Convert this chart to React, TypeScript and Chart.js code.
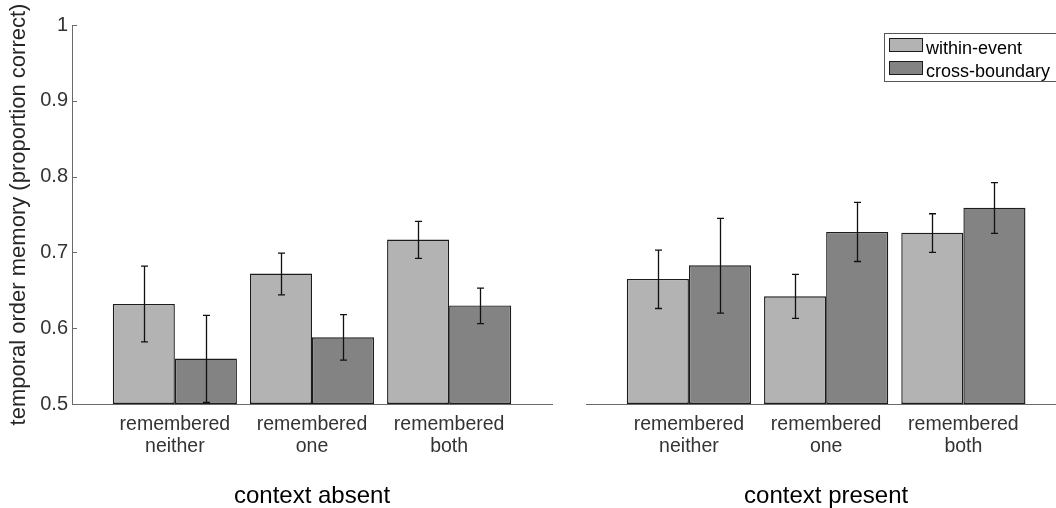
import React, { useEffect, useRef } from "react";
import { Chart, registerables } from "chart.js";

Chart.register(...registerables);

// ---------- data ----------
const categories = [
  ["remembered", "neither"],
  ["remembered", "one"],
  ["remembered", "both"],
];
const categoryPositions = [1, 2, 3];
const seriesNames = ["within-event", "cross-boundary"];
const panelTitles = ["context absent", "context present"];
const yTitle = "temporal order memory (proportion correct)";
const yTickValues = [0.5, 0.6, 0.7, 0.8, 0.9, 1];
const yTickLabels = ["0.5", "0.6", "0.7", "0.8", "0.9", "1"];

// context absent
const absentWithin = [0.632, 0.672, 0.717];
const absentWithinLow = [0.582, 0.644, 0.692];
const absentWithinHigh = [0.682, 0.699, 0.741];
const absentCross = [0.56, 0.588, 0.63];
const absentCrossLow = [0.502, 0.558, 0.606];
const absentCrossHigh = [0.617, 0.618, 0.653];

// context present
const presentWithin = [0.665, 0.642, 0.726];
const presentWithinLow = [0.626, 0.613, 0.7];
const presentWithinHigh = [0.703, 0.671, 0.751];
const presentCross = [0.683, 0.727, 0.759];
const presentCrossLow = [0.62, 0.688, 0.725];
const presentCrossHigh = [0.745, 0.766, 0.792];

// ---------- style ----------
const FONT = "'Liberation Sans', Arial, Helvetica, sans-serif";
const LIGHT = "#b3b3b3";
const DARK = "#838383";
const EDGE = "#1c1c1c";
const AXIS = "#6a6a6a";
const TICKTXT = "#333333";

Chart.defaults.font.family = FONT;

const errorBarPlugin = {
  id: "errorBars",
  afterDatasetsDraw(chart: any, _args: any, o: any) {
    if (!o || !o.low) return;
    const { ctx } = chart;
    const yScale = chart.scales.y;
    ctx.save();
    ctx.strokeStyle = o.color;
    ctx.lineWidth = o.width;
    chart.data.datasets.forEach((_ds: any, di: number) => {
      const meta = chart.getDatasetMeta(di);
      meta.data.forEach((bar: any, i: number) => {
        const yl = yScale.getPixelForValue(o.low[di][i]);
        const yh = yScale.getPixelForValue(o.high[di][i]);
        const x = Math.round(bar.x) + 0.5;
        ctx.beginPath();
        ctx.moveTo(x, yl);
        ctx.lineTo(x, yh);
        ctx.moveTo(x - o.cap, yl);
        ctx.lineTo(x + o.cap, yl);
        ctx.moveTo(x - o.cap, yh);
        ctx.lineTo(x + o.cap, yh);
        ctx.stroke();
      });
    });
    ctx.restore();
  },
};

const panelDecorPlugin = {
  id: "panelDecor",
  afterDraw(chart: any, _args: any, o: any) {
    if (!o) return;
    const { ctx, chartArea } = chart;
    const xScale = chart.scales.x;
    const yScale = chart.scales.y;
    ctx.save();
    // inward y ticks
    if (o.yTicks) {
      ctx.strokeStyle = AXIS;
      ctx.lineWidth = 1;
      yTickValues.forEach((v) => {
        const y = Math.round(yScale.getPixelForValue(v)) + 0.5;
        ctx.beginPath();
        ctx.moveTo(chartArea.left, y);
        ctx.lineTo(chartArea.left + 5, y);
        ctx.stroke();
      });
    }
    // panel title
    if (o.title) {
      ctx.fillStyle = "#000";
      ctx.font = `24px ${FONT}`;
      ctx.textAlign = "center";
      ctx.textBaseline = "alphabetic";
      ctx.fillText(o.title, xScale.getPixelForValue(o.titleAt), o.titleBaseline);
    }
    // legend
    if (o.legend) {
      const L = o.legend;
      ctx.fillStyle = "#fff";
      ctx.fillRect(L.left, L.top, L.width, L.height);
      ctx.strokeStyle = "#555";
      ctx.lineWidth = 1;
      ctx.strokeRect(L.left + 0.5, L.top + 0.5, L.width, L.height);
      ctx.font = `18px ${FONT}`;
      ctx.textAlign = "left";
      ctx.textBaseline = "alphabetic";
      chart.data.datasets.forEach((ds: any, i: number) => {
        const sy = L.top + 5 + i * L.row;
        ctx.fillStyle = ds.backgroundColor;
        ctx.fillRect(L.left + 5, sy, 33, 13);
        ctx.strokeStyle = EDGE;
        ctx.strokeRect(L.left + 5.5, sy + 0.5, 33, 13);
        ctx.fillStyle = "#000";
        ctx.fillText(ds.label, L.left + 42, sy + 16);
      });
    }
    ctx.restore();
  },
};

function makeDatasets(within: number[], cross: number[]) {
  const common = {
    borderColor: EDGE,
    borderWidth: 1.4,
    borderSkipped: false,
    base: 0.5,
    categoryPercentage: 0.905,
    barPercentage: 1,
  };
  return [
    {
      ...common,
      label: seriesNames[0],
      backgroundColor: LIGHT,
      data: within.map((v, i) => ({ x: categoryPositions[i], y: v })),
    },
    {
      ...common,
      label: seriesNames[1],
      backgroundColor: DARK,
      data: cross.map((v, i) => ({ x: categoryPositions[i], y: v })),
    },
  ];
}

function xScaleOpts(min: number, max: number) {
  return {
    type: "linear",
    min,
    max,
    offset: false,
    grid: { display: false, drawTicks: false, offset: false },
    border: { display: true, color: AXIS, width: 1 },
    ticks: {
      autoSkip: false,
      maxRotation: 0,
      minRotation: 0,
      padding: 9,
      color: TICKTXT,
      font: { size: 19.5, lineHeight: 1.15 },
      callback: (_v: any, i: number) => categories[i],
    },
    afterBuildTicks: (s: any) => {
      s.ticks = categoryPositions.map((v) => ({ value: v }));
    },
    afterFit: (s: any) => {
      s.height = 104;
    },
  };
}

function yScaleOpts(show: boolean) {
  return {
    display: show,
    min: 0.5,
    max: 1,
    grid: { display: false, drawTicks: false },
    border: { display: true, color: AXIS, width: 1 },
    ticks: {
      padding: 4,
      color: TICKTXT,
      font: { size: 20 },
      callback: (_v: any, i: number) => yTickLabels[i],
    },
    afterBuildTicks: (s: any) => {
      s.ticks = yTickValues.map((v) => ({ value: v }));
    },
    title: {
      display: show,
      text: yTitle,
      color: "#262626",
      font: { size: 22 },
      padding: { top: 6, bottom: 0 },
    },
    afterFit: (s: any) => {
      if (show) s.width = 72;
    },
  };
}

export default function App() {
  const leftRef = useRef<HTMLCanvasElement>(null);
  const rightRef = useRef<HTMLCanvasElement>(null);

  useEffect(() => {
    const common = (pad: any) => ({
      responsive: false,
      animation: false,
      layout: { padding: pad },
      events: [],
    });

    const left = new Chart(leftRef.current as HTMLCanvasElement, {
      type: "bar",
      data: { datasets: makeDatasets(absentWithin, absentCross) as any },
      options: {
        ...common({ left: 0, top: 25, right: 18, bottom: 0 }),
        scales: { x: xScaleOpts(0.25, 3.75) as any, y: yScaleOpts(true) as any },
        plugins: {
          legend: { display: false },
          tooltip: { enabled: false },
          errorBars: {
            low: [absentWithinLow, absentCrossLow],
            high: [absentWithinHigh, absentCrossHigh],
            color: "#111",
            width: 1.3,
            cap: 3.5,
          },
          panelDecor: { yTicks: true, title: panelTitles[0], titleAt: 2, titleBaseline: 502.5 },
        } as any,
      } as any,
      plugins: [errorBarPlugin, panelDecorPlugin],
    });

    const right = new Chart(rightRef.current as HTMLCanvasElement, {
      type: "bar",
      data: { datasets: makeDatasets(presentWithin, presentCross) as any },
      options: {
        ...common({ left: 16, top: 25, right: 0, bottom: 0 }),
        scales: { x: xScaleOpts(0.25, 3.675) as any, y: yScaleOpts(false) as any },
        plugins: {
          legend: { display: false },
          tooltip: { enabled: false },
          errorBars: {
            low: [presentWithinLow, presentCrossLow],
            high: [presentWithinHigh, presentCrossHigh],
            color: "#111",
            width: 1.3,
            cap: 3.5,
          },
          panelDecor: {
            yTicks: false,
            title: panelTitles[1],
            titleAt: 2,
            titleBaseline: 502.5,
            legend: { left: 314, top: 33, width: 200, height: 48, row: 23 },
          },
        } as any,
      } as any,
      plugins: [errorBarPlugin, panelDecorPlugin],
    });

    return () => {
      left.destroy();
      right.destroy();
    };
  }, []);

  return (
    <div
      style={{
        position: "fixed",
        left: 0,
        top: 0,
        width: 1056,
        height: 508,
        background: "#fff",
        overflow: "hidden",
      }}
    >
      <canvas
        ref={leftRef}
        width={570}
        height={508}
        style={{ position: "absolute", left: 0, top: 0, width: 570, height: 508 }}
      />
      <canvas
        ref={rightRef}
        width={486}
        height={508}
        style={{ position: "absolute", left: 570, top: 0, width: 486, height: 508 }}
      />
    </div>
  );
}
